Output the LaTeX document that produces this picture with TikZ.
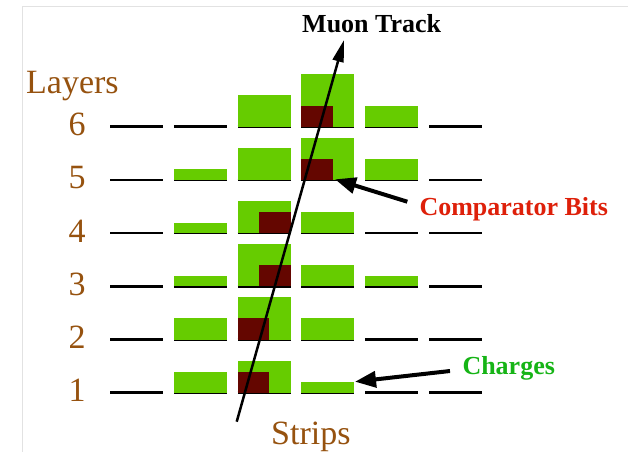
\documentclass[tikz,border=0pt]{standalone}
\usepackage{fontspec}
\setmainfont{Liberation Serif}
\usetikzlibrary{arrows.meta}
\definecolor{bargreen}{RGB}{102,204,0}
\definecolor{barred}{RGB}{100,6,0}
\definecolor{labbrown}{RGB}{150,82,15}
\definecolor{labred}{RGB}{222,32,10}
\definecolor{labgreen}{RGB}{22,180,22}
\definecolor{framegray}{RGB}{226,226,226}
\tikzset{
  stripline/.style={line width=2.7pt, black},
  bigtext/.style={inner sep=0pt, font=\fontsize{34}{40}\selectfont, text=labbrown},
  boldlabel/.style={inner sep=0pt, font=\fontsize{26}{30}\selectfont\bfseries},
  fatarrow/.style={line width=4pt, -{Triangle[length=21pt,width=16pt]}},
  trackarrow/.style={line width=2.5pt, -{Triangle[length=22pt,width=11pt]}},
}
\begin{document}
\begin{tikzpicture}[x=1pt,y=-1pt]
\useasboundingbox (0,0) rectangle (628,452);
\fill[white] (0,0) rectangle (628,452);
\draw[framegray, line width=1pt] (22,452) -- (22,7) -- (628,7);
% strip baselines and layer numbers
\foreach \l in {1,...,6}{
  \pgfmathsetmacro\yb{392.7-53.2*(\l-1)}
  \foreach \c in {1,...,6}{
    \draw[stripline] ({110+63.8*(\c-1)},\yb) -- ++(53,0);
  }
  \node[bigtext, anchor=base] (n\l) at (77,{\yb+9}) {\l};
}
% charges
\foreach \l/\c/\h in {6/3/3,6/4/5,6/5/2,
                      5/2/1,5/3/3,5/4/4,5/5/2,
                      4/2/1,4/3/3,4/4/2,
                      3/2/1,3/3/4,3/4/2,3/5/1,
                      2/2/2,2/3/4,2/4/2,
                      1/2/2,1/3/3,1/4/1}{
  \fill[bargreen] ({110+63.8*(\c-1)},{392.7-53.2*(\l-1)}) rectangle ++(53,{-10.6*\h});
}
% comparator bits
\foreach \l/\c/\o in {6/4/0,5/4/0,4/3/21.3,3/3/21.3,2/3/0,1/3/0}{
  \fill[barred] ({110+63.8*(\c-1)+\o},{392.7-53.2*(\l-1)}) rectangle ++(31.6,-21.2);
}
% labels
\node[bigtext, anchor=base west] (layers) at (26,93) {Layers};
\node[bigtext, anchor=base west] (strips) at (271,444.5) {Strips};
\node[boldlabel, anchor=base west, text=black] (muon) at (302,32.5) {Muon Track};
\node[boldlabel, anchor=base west, text=labred] (comp) at (419.3,215) {Comparator Bits};
\node[boldlabel, anchor=base west, text=labgreen] (charges) at (462.3,374.3) {Charges};
% arrows
\coordinate (trackstart) at (236.7,421.7);
\coordinate (tracktip) at (344,40);
\coordinate (comptail) at (407.3,201.7);
\coordinate (comptip) at (335,179.3);
\coordinate (chtail) at (450,371);
\coordinate (chtip) at (355,381.7);
\draw[trackarrow] (trackstart) -- (tracktip);
\draw[fatarrow] (comptail) -- (comptip);
\draw[fatarrow] (chtail) -- (chtip);
\end{tikzpicture}
\end{document}
